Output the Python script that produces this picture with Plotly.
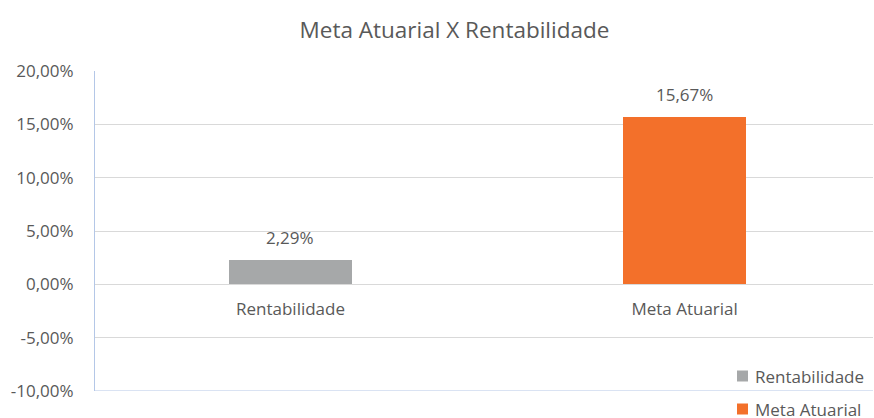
import plotly.graph_objects as go

categories = ["Rentabilidade", "Meta Atuarial"]
values = [0.0229, 0.1567]
bar_colors = ["#a6a8a9", "#f3702a"]
tick_values = [-0.10, -0.05, 0.0, 0.05, 0.10, 0.15, 0.20]
tick_labels = ["-10,00%", "-5,00%", "0,00%", "5,00%", "10,00%", "15,00%", "20,00%"]

FONT = "Open Sans"
TEXT = "#595959"
W, H = 874, 418
ML, MR, MT, MB = 95, 1, 71, 27

fig = go.Figure()
for cat, val, col in zip(categories, values, bar_colors):
    fig.add_trace(go.Bar(
        x=[cat], y=[val], name=cat, marker=dict(color=col, line=dict(width=0)),
        width=0.312, hoverinfo="skip", showlegend=False,
    ))
    fig.add_annotation(
        x=cat, y=val, xref="x", yref="y", text=f"{val*100:.2f}%".replace(".", ","),
        showarrow=False, yanchor="bottom", yshift=9,
        font=dict(family=FONT, size=17, color=TEXT),
    )

# light blue frame line along the bottom of the plot area
fig.add_shape(type="line", xref="paper", yref="y", x0=0, x1=1.0, y0=-0.10, y1=-0.10,
              line=dict(color="#b4c7e7", width=1), layer="above")

# legend: colour swatch + label, stacked at the lower right
pw = W - ML - MR
ph = H - MT - MB
for i, (cat, col) in enumerate(zip(categories, bar_colors)):
    cy = 376 + i * 33  # pixel row of the entry
    py = (H - MB - cy) / ph
    x0 = (737 - ML) / pw
    x1 = (748 - ML) / pw
    half = 5.5 / ph
    fig.add_shape(type="rect", xref="paper", yref="paper", x0=x0, x1=x1,
                  y0=py - half, y1=py + half, fillcolor=col, line=dict(width=0))
    fig.add_annotation(x=(753 - ML) / pw, y=py, xref="paper", yref="paper",
                       text=cat, showarrow=False, xanchor="left", yanchor="middle",
                       font=dict(family=FONT, size=17, color=TEXT))

fig.update_layout(
    width=W, height=H,
    margin=dict(l=ML, r=MR, t=MT, b=MB, autoexpand=False),
    paper_bgcolor="white", plot_bgcolor="white",
    title=dict(text="Meta Atuarial X Rentabilidade", x=0.52, xref="container", xanchor="center",
               y=1 - 30 / H, yref="container", yanchor="middle",
               font=dict(family=FONT, size=22.5, color=TEXT)),
    showlegend=False,
    bargap=0.0,
    font=dict(family=FONT, color=TEXT),
)

fig.update_xaxes(
    type="category", range=[-0.496, 1.478], anchor="free", position=1 / 3,
    showgrid=False, showline=False, ticks="", ticklabelstandoff=13,
    tickfont=dict(family=FONT, size=17, color=TEXT),
)
fig.update_yaxes(
    range=[-0.10, 0.20], tickvals=tick_values, ticktext=tick_labels,
    showgrid=True, gridcolor="#d9d9d9", gridwidth=1, zeroline=False,
    showline=True, linecolor="#b4c7e7", linewidth=1,
    ticks="", ticklabelstandoff=17,
    tickfont=dict(family=FONT, size=17, color=TEXT),
)

fig.write_html("out.html")
